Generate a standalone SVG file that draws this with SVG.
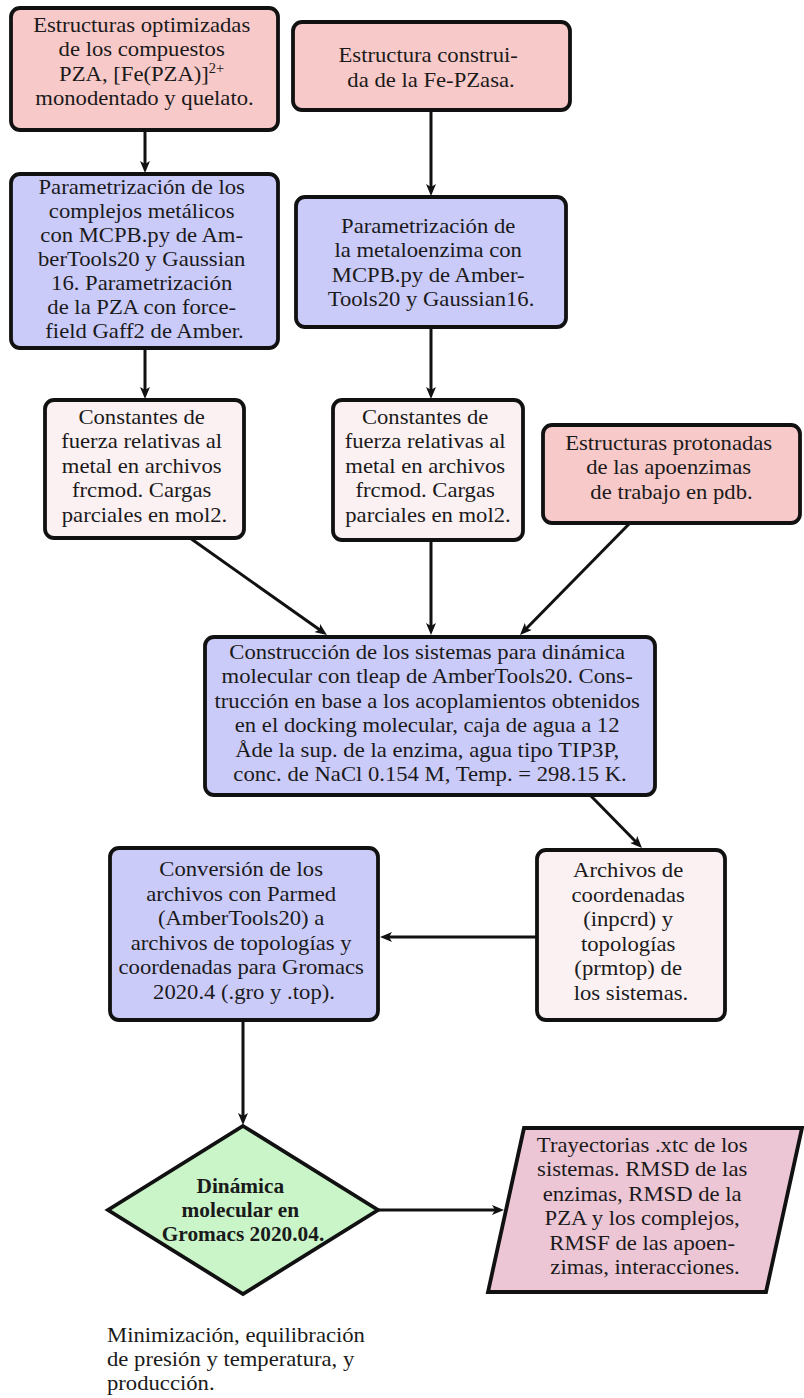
<svg xmlns="http://www.w3.org/2000/svg" width="804" height="1398" viewBox="0 0 804 1398">
<defs>
<marker id="ah" viewBox="0 0 12 10" refX="6" refY="5" markerWidth="12" markerHeight="10" orient="auto" markerUnits="userSpaceOnUse">
<path d="M0,0 L12,5 L0,10 L3,5 z" fill="#111"/>
</marker>
<style>
.t { font-family: "Liberation Serif","Times New Roman",serif; font-size: 22px; fill: #1a1a1a; text-anchor: middle; }
.l { text-anchor: start; }
.b { font-weight: bold; }
.n { stroke: #111; stroke-width: 3.8; }
.pink { fill: #F8C9C9; }
.blue { fill: #CBCBFA; }
.pale { fill: #FBF0F2; }
.green { fill: #C9F5C9; }
.mauve { fill: #EDC6D6; }
.c { stroke: #111; stroke-width: 3; fill: none; marker-end: url(#ah); }
</style>
</defs>
<rect width="804" height="1398" fill="#ffffff"/>

<g id="connectors">
<line class="c" x1="145" y1="130" x2="145" y2="167"/>
<line class="c" x1="145" y1="348" x2="145" y2="393"/>
<line class="c" x1="431" y1="110" x2="431" y2="190"/>
<line class="c" x1="431" y1="327" x2="431" y2="393"/>
<line class="c" x1="190" y1="538" x2="322.1" y2="631.5"/>
<line class="c" x1="431" y1="540" x2="431" y2="629"/>
<line class="c" x1="630" y1="523" x2="524.2" y2="630.7"/>
<line class="c" x1="590" y1="795" x2="637.8" y2="843.7"/>
<line class="c" x1="537" y1="937" x2="386" y2="937"/>
<line class="c" x1="243" y1="1020" x2="243" y2="1119"/>
<line class="c" x1="378" y1="1210" x2="498" y2="1210"/>
</g>

<g id="nodeA">
<rect class="n pink" x="11" y="8" width="267" height="122" rx="9"/>
<text class="t" transform="translate(144.5,0) scale(1.03,1)">
<tspan x="0" y="32">Estructuras optimizadas</tspan>
<tspan x="0" y="56.5">de los compuestos</tspan>
<tspan x="0" y="81">PZA, [Fe(PZA)]<tspan font-size="14" dy="-8">2+</tspan></tspan>
<tspan x="0" y="105.5">monodentado y quelato.</tspan>
</text>
</g>

<g id="nodeB">
<rect class="n blue" x="11" y="174" width="267" height="174" rx="9"/>
<text class="t" transform="translate(144.5,0) scale(1.03,1)">
<tspan x="0" y="194">Parametrización de los</tspan>
<tspan x="0" y="218">complejos metálicos</tspan>
<tspan x="0" y="242">con MCPB.py de Am-</tspan>
<tspan x="0" y="266">berTools20 y Gaussian</tspan>
<tspan x="0" y="290">16. Parametrización</tspan>
<tspan x="0" y="314">de la PZA con force-</tspan>
<tspan x="0" y="338">field Gaff2 de Amber.</tspan>
</text>
</g>

<g id="nodeC">
<rect class="n pale" x="45" y="400" width="199" height="138" rx="9"/>
<text class="t" transform="translate(144.5,0) scale(1.03,1)">
<tspan x="0" y="424">Constantes de</tspan>
<tspan x="0" y="448.5">fuerza relativas al</tspan>
<tspan x="0" y="473">metal en archivos</tspan>
<tspan x="0" y="497.5">frcmod. Cargas</tspan>
<tspan x="0" y="522">parciales en mol2.</tspan>
</text>
</g>

<g id="nodeA2">
<rect class="n pink" x="293" y="22" width="277" height="88" rx="9"/>
<text class="t" transform="translate(431,0) scale(1.03,1)">
<tspan x="0" y="62">Estructura construi-</tspan>
<tspan x="0" y="87">da de la Fe-PZasa.</tspan>
</text>
</g>

<g id="nodeA3">
<rect class="n blue" x="296" y="197" width="270" height="130" rx="9"/>
<text class="t" transform="translate(431,0) scale(1.03,1)">
<tspan x="0" y="233">Parametrización de</tspan>
<tspan x="0" y="257.5">la metaloenzima con</tspan>
<tspan x="0" y="282">MCPB.py de Amber-</tspan>
<tspan x="0" y="306.5">Tools20 y Gaussian16.</tspan>
</text>
</g>

<g id="nodeD">
<rect class="n pale" x="333" y="400" width="190" height="140" rx="9"/>
<text class="t" transform="translate(428,0) scale(1.03,1)">
<tspan x="0" y="424">Constantes de</tspan>
<tspan x="0" y="448.5">fuerza relativas al</tspan>
<tspan x="0" y="473">metal en archivos</tspan>
<tspan x="0" y="497.5">frcmod. Cargas</tspan>
<tspan x="0" y="522">parciales en mol2.</tspan>
</text>
</g>

<g id="nodeG">
<rect class="n pink" x="543" y="425" width="257" height="98" rx="9"/>
<text class="t" transform="translate(671.5,0) scale(1.03,1)">
<tspan x="0" y="450">Estructuras protonadas</tspan>
<tspan x="0" y="474.5">de las apoenzimas</tspan>
<tspan x="0" y="499">de trabajo en pdb.</tspan>
</text>
</g>

<g id="nodeE">
<rect class="n blue" x="205" y="637" width="450" height="158" rx="9"/>
<text class="t" transform="translate(430,0) scale(1.03,1)">
<tspan x="0" y="659">Construcción de los sistemas para dinámica</tspan>
<tspan x="0" y="683.5">molecular con tleap de AmberTools20. Cons-</tspan>
<tspan x="0" y="708">trucción en base a los acoplamientos obtenidos</tspan>
<tspan x="0" y="732.5">en el docking molecular, caja de agua a 12</tspan>
<tspan x="0" y="757">Åde la sup. de la enzima, agua tipo TIP3P,</tspan>
<tspan x="0" y="781.5">conc. de NaCl 0.154 M, Temp. = 298.15 K.</tspan>
</text>
</g>

<g id="nodeF">
<rect class="n blue" x="110" y="848" width="268" height="172" rx="9"/>
<text class="t" transform="translate(244,0) scale(1.03,1)">
<tspan x="0" y="876.5">Conversión de los</tspan>
<tspan x="0" y="901">archivos con Parmed</tspan>
<tspan x="0" y="925.5">(AmberTools20) a</tspan>
<tspan x="0" y="950">archivos de topologías y</tspan>
<tspan x="0" y="974.5">coordenadas para Gromacs</tspan>
<tspan x="0" y="999">2020.4 (.gro y .top).</tspan>
</text>
</g>

<g id="nodeH">
<rect class="n pale" x="537" y="850" width="188" height="170" rx="9"/>
<text class="t" transform="translate(631,0) scale(1.03,1)">
<tspan x="0" y="877.5">Archivos de</tspan>
<tspan x="0" y="902">coordenadas</tspan>
<tspan x="0" y="926.5">(inpcrd) y</tspan>
<tspan x="0" y="951">topologías</tspan>
<tspan x="0" y="975.5">(prmtop) de</tspan>
<tspan x="0" y="1000">los sistemas.</tspan>
</text>
</g>

<g id="nodeDiamond">
<polygon class="n green" points="243,1126 378,1210 243,1294 108,1210"/>
<text class="t b" transform="translate(243,0) scale(0.97,1)">
<tspan x="0" y="1193">Dinámica</tspan>
<tspan x="0" y="1217">molecular en</tspan>
<tspan x="0" y="1241">Gromacs 2020.04.</tspan>
</text>
</g>

<g id="nodeP">
<polygon class="n mauve" points="524,1128 802,1128 766,1292 488,1292"/>
<text class="t" transform="translate(645,0) scale(1.03,1)">
<tspan x="0" y="1152">Trayectorias .xtc de los</tspan>
<tspan x="0" y="1176.5">sistemas. RMSD de las</tspan>
<tspan x="0" y="1201">enzimas, RMSD de la</tspan>
<tspan x="0" y="1225.5">PZA y los complejos,</tspan>
<tspan x="0" y="1250">RMSF de las apoen-</tspan>
<tspan x="0" y="1274.5">zimas, interacciones.</tspan>
</text>
</g>

<g id="note">
<text class="t l" transform="translate(107,0) scale(1.03,1)">
<tspan x="0" y="1342">Minimización, equilibración</tspan>
<tspan x="0" y="1366">de presión y temperatura, y</tspan>
<tspan x="0" y="1390">producción.</tspan>
</text>
</g>
</svg>
